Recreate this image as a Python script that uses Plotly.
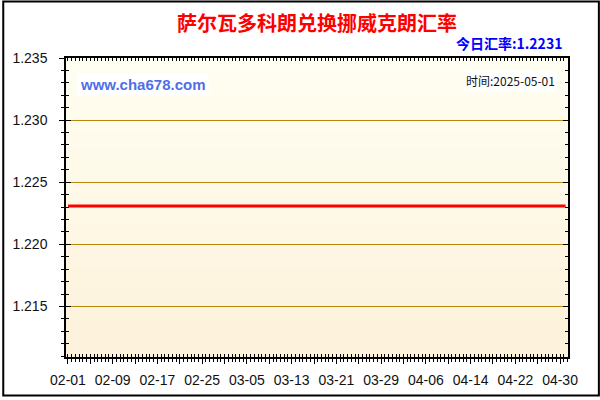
import pandas as pd
import plotly.graph_objects as go

# daily rate, SVC -> NOK
dates = pd.date_range("2025-02-01", "2025-05-01", freq="D")
rates = [
    1.2231, 1.2231, 1.2231, 1.2231, 1.2231, 1.2231, 1.2231, 1.2231, 1.2231, 1.2231,
    1.2231, 1.2231, 1.2231, 1.2231, 1.2231, 1.2231, 1.2231, 1.2231, 1.2231, 1.2231,
    1.2231, 1.2231, 1.2231, 1.2231, 1.2231, 1.2231, 1.2231, 1.2231, 1.2231, 1.2231,
    1.2231, 1.2231, 1.2231, 1.2231, 1.2231, 1.2231, 1.2231, 1.2231, 1.2231, 1.2231,
    1.2231, 1.2231, 1.2231, 1.2231, 1.2231, 1.2231, 1.2231, 1.2231, 1.2231, 1.2231,
    1.2231, 1.2231, 1.2231, 1.2231, 1.2231, 1.2231, 1.2231, 1.2231, 1.2231, 1.2231,
    1.2231, 1.2231, 1.2231, 1.2231, 1.2231, 1.2231, 1.2231, 1.2231, 1.2231, 1.2231,
    1.2231, 1.2231, 1.2231, 1.2231, 1.2231, 1.2231, 1.2231, 1.2231, 1.2231, 1.2231,
    1.2231, 1.2231, 1.2231, 1.2231, 1.2231, 1.2231, 1.2231, 1.2231, 1.2231, 1.2231,
]
x_labels = ["02-01", "02-09", "02-17", "02-25", "03-05", "03-13",
            "03-21", "03-29", "04-06", "04-14", "04-22", "04-30"]
y_ticks = [1.215, 1.220, 1.225, 1.230, 1.235]

title = "萨尔瓦多科朗兑换挪威克朗汇率"
today_text = "今日汇率:1.2231"
site_text = "www.cha678.com"
time_text = "时间:2025-05-01"

x_range = ["2025-01-31 15:30", "2025-05-01 10:10"]
y_range = [1.21094, 1.2350]

# major ticks every 4 days, label every other one
tick_vals = pd.date_range("2025-02-01", "2025-04-30", freq="4D")
tick_text = []
for i in range(len(tick_vals)):
    tick_text.append(x_labels[i // 2] if i % 2 == 0 else "")

fig = go.Figure()

fig.add_trace(go.Scatter(
    x=dates, y=rates, mode="lines",
    line=dict(color="#ff0000", width=3),
    hoverinfo="skip", showlegend=False,
))
# empty trace so the overlay axes (inner ticks) get drawn
fig.add_trace(go.Scatter(x=[], y=[], xaxis="x2", yaxis="y2",
                         hoverinfo="skip", showlegend=False))

# vertical gradient background of the plot area
n_bands = 40
top_rgb = (255, 254, 242)
bot_rgb = (253, 242, 219)
for i in range(n_bands):
    t = i / (n_bands - 1)
    c = tuple(round(top_rgb[k] + (bot_rgb[k] - top_rgb[k]) * t) for k in range(3))
    fig.add_shape(type="rect", xref="x domain", yref="y domain",
                  x0=0, x1=1, y0=1 - (i + 1) / n_bands, y1=1 - i / n_bands + 0.002,
                  fillcolor="rgb(%d,%d,%d)" % c, line_width=0, layer="below")

# outer black frame of the whole picture
L, R, T, B = 64, 32, 58, 40
pw, ph = 600 - L - R, 400 - T - B
fig.add_shape(type="rect", xref="paper", yref="paper",
              x0=(1 - L) / pw, x1=(599 - L) / pw,
              y0=(ph - 399 + T) / ph, y1=(ph + T - 1) / ph,
              line=dict(color="black", width=2), fillcolor="rgba(0,0,0,0)")

tick_font = dict(family="Liberation Sans, Arial", size=14, color="#111111")

fig.update_layout(
    width=600, height=400,
    margin=dict(l=L, r=R, t=T, b=B),
    paper_bgcolor="white",
    plot_bgcolor="#fffbea",
    title=dict(text="<b>%s</b>" % title, x=0.5, xref="paper", xanchor="center",
               y=1 - 24 / 400, yref="container", yanchor="middle",
               font=dict(family="Noto Sans CJK SC", size=20, color="#ff0000")),
    xaxis=dict(
        type="date", range=x_range,
        tickmode="array", tickvals=tick_vals, ticktext=tick_text,
        ticks="outside", ticklen=5, tickcolor="black", tickwidth=1,
        minor=dict(dtick=57600000, tick0="2025-02-01", ticks="outside",
                   ticklen=3, tickcolor="black", showgrid=False),
        showgrid=False, zeroline=False,
        showline=True, linecolor="black", linewidth=1.5,
        tickfont=tick_font, ticklabelstandoff=4,
    ),
    xaxis2=dict(
        type="date", range=x_range, overlaying="x", side="bottom", anchor="y",
        tickmode="array", tickvals=tick_vals, ticktext=["" for _ in tick_vals],
        ticks="inside", ticklen=4, tickcolor="black",
        minor=dict(dtick=57600000, tick0="2025-02-01", ticks="inside",
                   ticklen=3, tickcolor="black", showgrid=False),
        showticklabels=False, showgrid=False, zeroline=False,
        showline=True, mirror="ticks", linecolor="black", linewidth=1.5,
    ),
    yaxis=dict(
        range=y_range, tickmode="array", tickvals=y_ticks, tickformat=".3f",
        ticks="outside", ticklen=5, tickcolor="black",
        minor=dict(dtick=0.001, tick0=1.215, ticks="outside", ticklen=3,
                   tickcolor="black", showgrid=False),
        showgrid=True, gridcolor="#b8860b", gridwidth=1, zeroline=False,
        showline=True, linecolor="black", linewidth=1.5,
        tickfont=tick_font, ticklabelstandoff=9,
    ),
    yaxis2=dict(
        range=y_range, overlaying="y", side="left", anchor="x",
        tickmode="array", tickvals=y_ticks,
        ticks="inside", ticklen=5, tickcolor="black",
        minor=dict(dtick=0.001, tick0=1.215, ticks="inside", ticklen=3,
                   tickcolor="black", showgrid=False),
        showticklabels=False, showgrid=False, zeroline=False,
        showline=True, mirror="ticks", linecolor="black", linewidth=1.5,
    ),
    hovermode=False,
)

fig.add_annotation(text="<b>%s</b>" % today_text, xref="paper", yref="paper",
                   x=(564 - L) / pw, y=(ph + T - 43) / ph,
                   xanchor="right", yanchor="middle", showarrow=False,
                   font=dict(family="Noto Sans CJK SC", size=14, color="#0000ff"))
fig.add_annotation(text="<b>%s</b>" % site_text, xref="paper", yref="paper",
                   x=(75 - L) / pw, y=(ph + T - 85) / ph,
                   xanchor="left", yanchor="middle", showarrow=False,
                   bgcolor="white", borderpad=2,
                   font=dict(family="Liberation Sans, Arial", size=15, color="#4f6ee8"))
fig.add_annotation(text=time_text, xref="paper", yref="paper",
                   x=(557 - L) / pw, y=(ph + T - 81) / ph,
                   xanchor="right", yanchor="middle", showarrow=False,
                   bgcolor="white", borderpad=1,
                   font=dict(family="Noto Sans CJK SC", size=12, color="#111111"))

# clip the page to exactly the figure (no body margin, no extra height)
page_css = ("var s=document.createElement('style');"
            "s.textContent='html,body{margin:0;padding:0;width:600px;height:400px;overflow:hidden}';"
            "document.head.appendChild(s);")
fig.write_html("out.html", config={"displayModeBar": False}, post_script=page_css)
